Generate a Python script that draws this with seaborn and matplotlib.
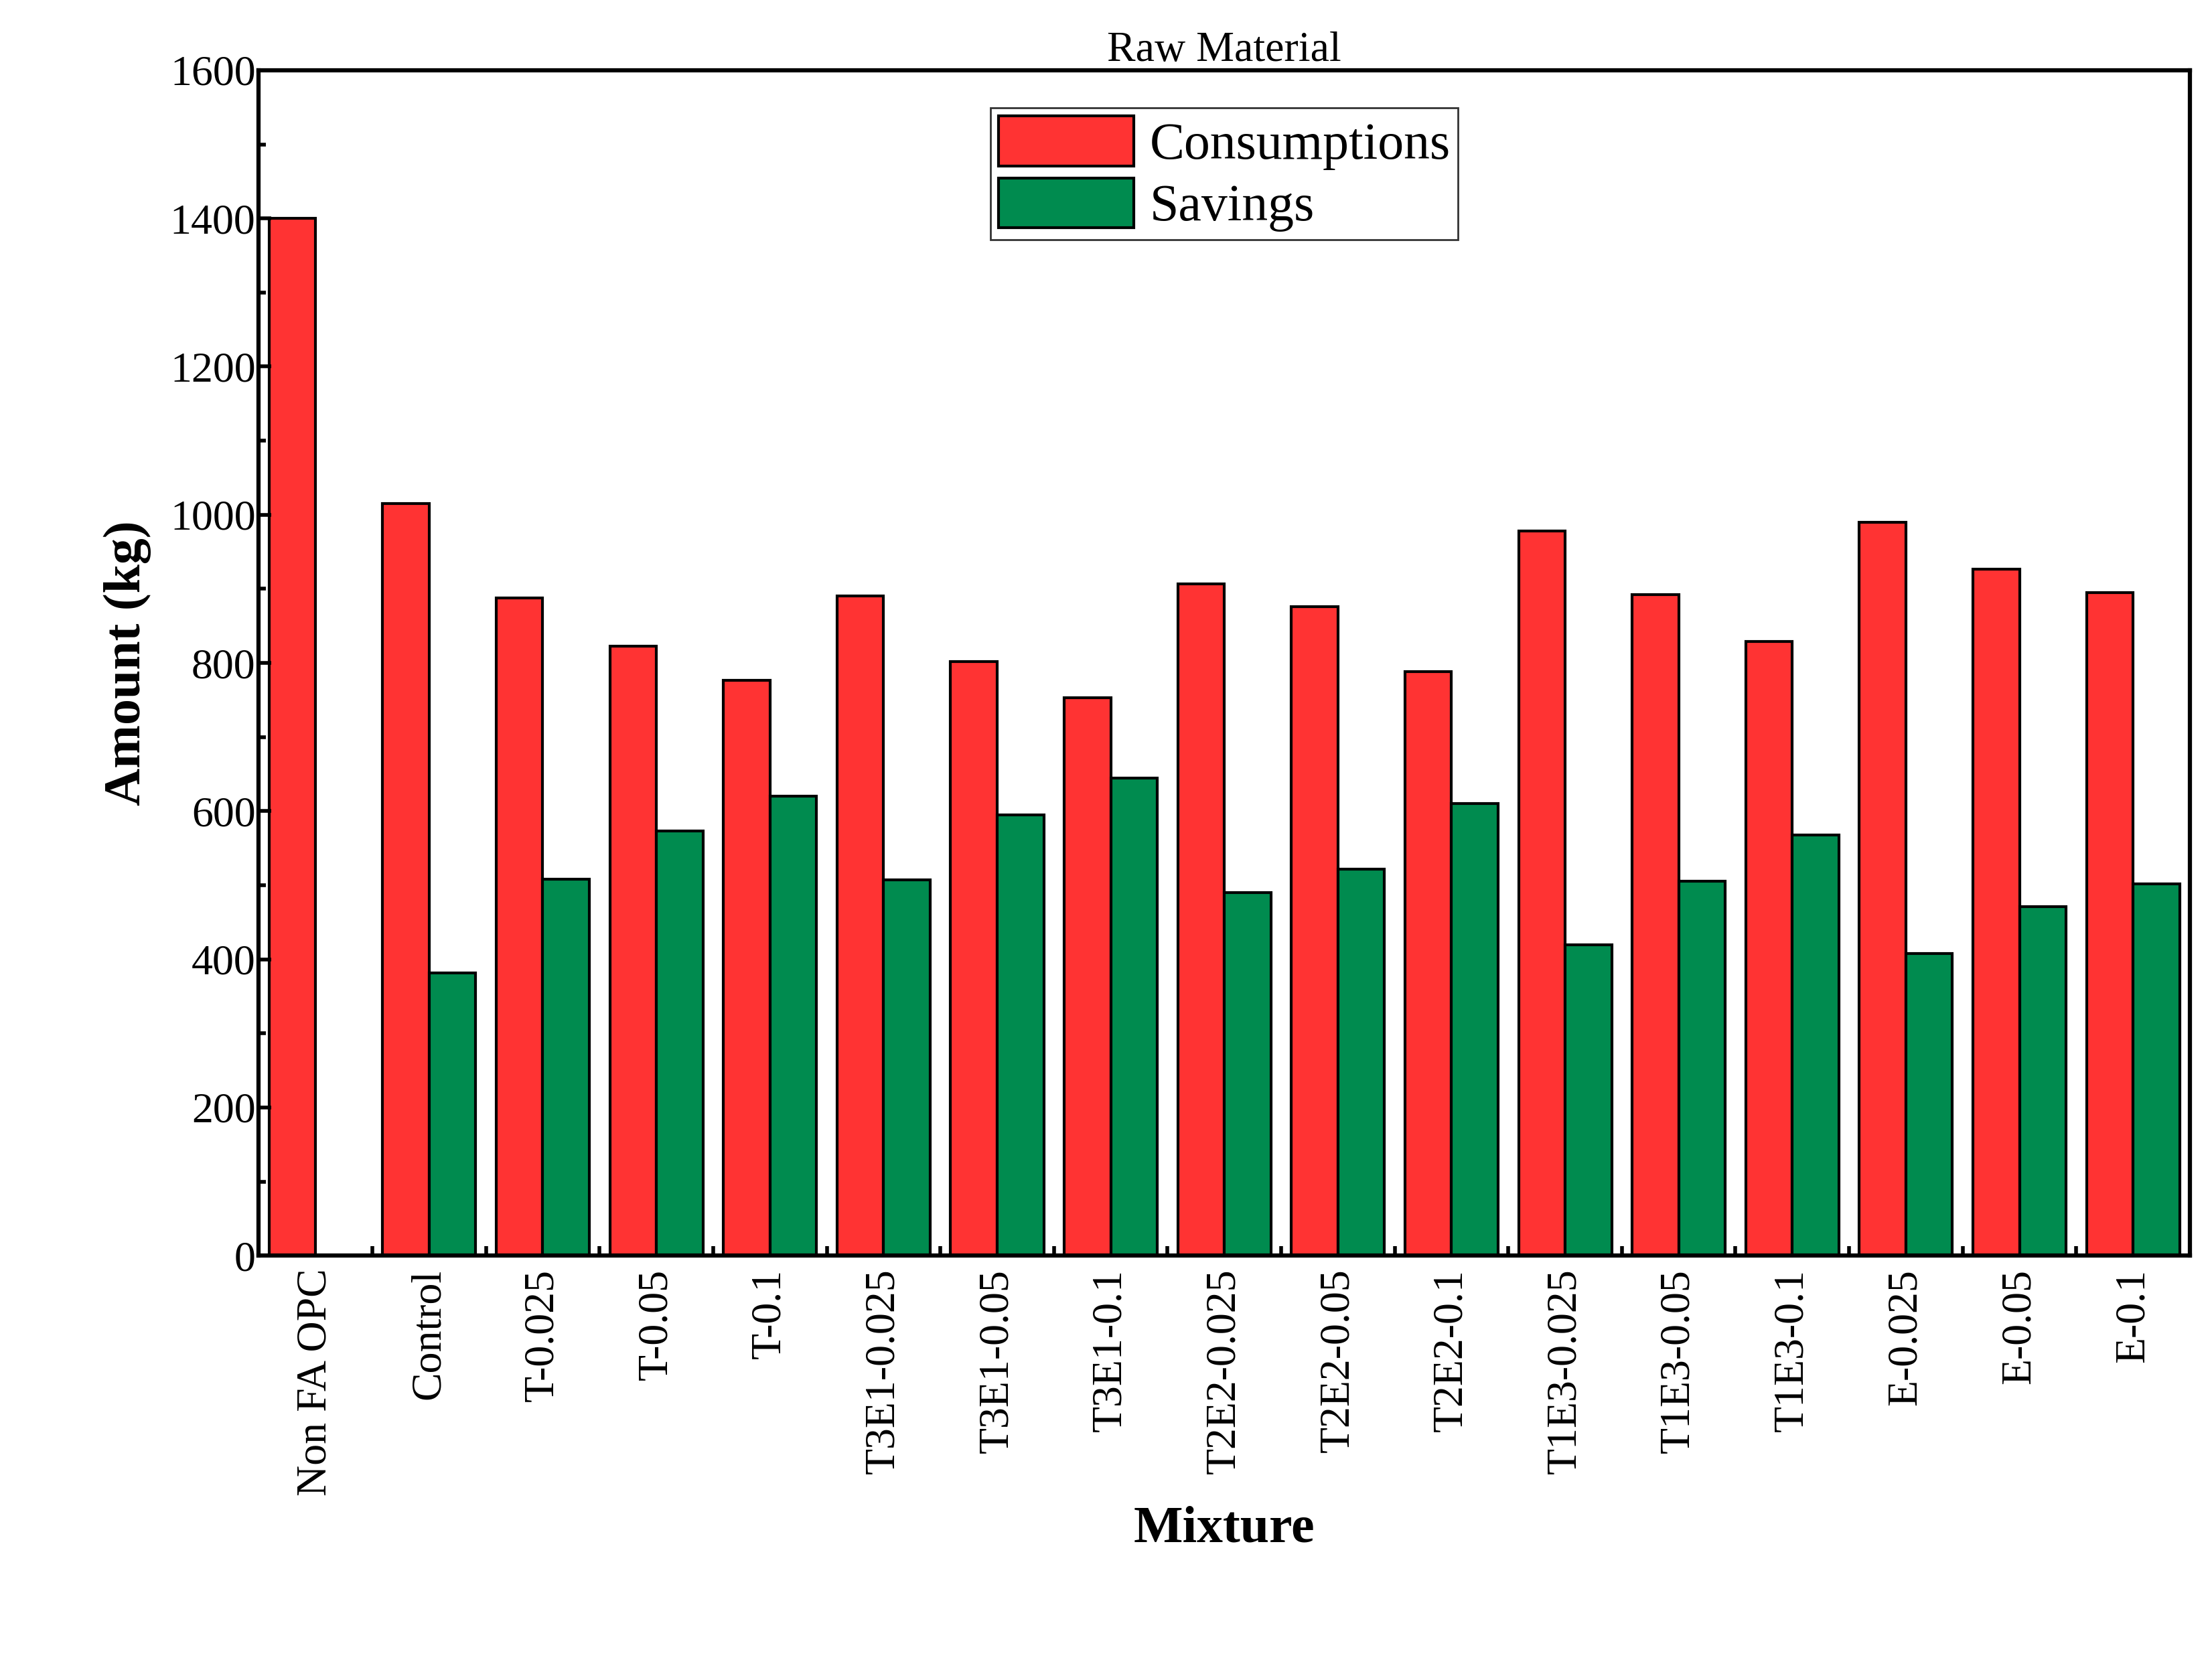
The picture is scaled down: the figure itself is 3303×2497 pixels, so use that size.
import matplotlib
matplotlib.use("Agg")
import matplotlib.pyplot as plt
import seaborn as sns
import pandas as pd
import numpy as np
from matplotlib.ticker import MultipleLocator, FixedLocator

mixtures = ["Non FA OPC", "Control", "T-0.025", "T-0.05", "T-0.1", "T3E1-0.025", "T3E1-0.05",
            "T3E1-0.1", "T2E2-0.025", "T2E2-0.05", "T2E2-0.1", "T1E3-0.025", "T1E3-0.05",
            "T1E3-0.1", "E-0.025", "E-0.05", "E-0.1"]
consumptions = [1400, 1015, 888, 823, 777, 890, 802, 753, 907, 876, 788, 978, 892, 829, 990, 927, 895]
savings = [0, 382, 508, 573, 620, 507, 595, 645, 490, 522, 610, 420, 505, 568, 408, 471, 502]

df = pd.DataFrame({
    "Mixture": mixtures * 2,
    "Amount": consumptions + savings,
    "Type": ["Consumptions"] * len(mixtures) + ["Savings"] * len(mixtures),
})

plt.rcParams["font.family"] = "Liberation Serif"
fig = plt.figure(figsize=(33.03, 24.97), dpi=100)
ax = fig.add_axes([0.117, 0.249, 0.873, 0.709])
sns.barplot(data=df, x="Mixture", y="Amount", hue="Type", ax=ax,
            palette={"Consumptions": "#FF3333", "Savings": "#008B4F"},
            width=0.82, edgecolor="black", linewidth=3, saturation=1)

ax.set_xlim(-0.5, len(mixtures) - 0.5)
ax.set_ylim(0, 1600)
ax.yaxis.set_major_locator(MultipleLocator(200))
ax.yaxis.set_minor_locator(MultipleLocator(100))
ax.xaxis.set_minor_locator(FixedLocator(np.arange(0.5, len(mixtures) - 1, 1)))
ax.tick_params(axis="y", which="major", direction="in", length=14, width=4, labelsize=46)
ax.tick_params(axis="y", which="minor", direction="in", length=8, width=4)
ax.tick_params(axis="x", which="major", length=0, labelsize=46, pad=14)
ax.tick_params(axis="x", which="minor", direction="in", length=10, width=4)
plt.setp(ax.get_xticklabels(), rotation=90)
for s in ax.spines.values():
    s.set_linewidth(4.5)
ax.set_xlabel("Mixture", fontsize=56, fontweight="bold", labelpad=10)
ax.set_ylabel("Amount (kg)", fontsize=56, fontweight="bold", labelpad=20)
ax.set_title("Raw Material", fontsize=46, pad=6)
leg = ax.legend(loc="upper center", bbox_to_anchor=(0.5, 0.99), fontsize=56, fancybox=False,
                edgecolor="black", handlelength=2.6, handleheight=1.1, borderpad=0.15,
                labelspacing=0.15, handletextpad=0.3, title=None)
leg.get_frame().set_linewidth(2)
fig.savefig("out.png", dpi=100)
